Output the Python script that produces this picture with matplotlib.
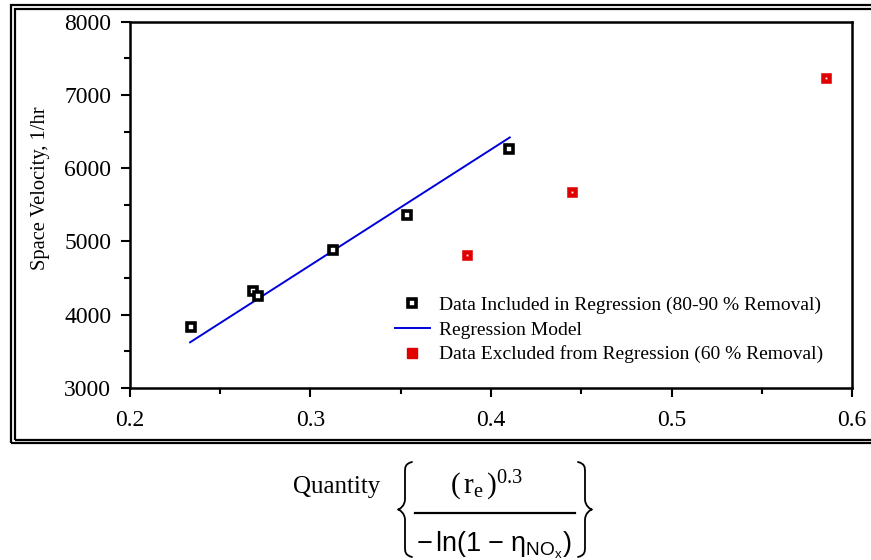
import matplotlib
matplotlib.use("Agg")
import matplotlib.pyplot as plt
from matplotlib.patches import Rectangle, PathPatch
from matplotlib.path import Path
from matplotlib.lines import Line2D
import numpy as np

plt.rcParams['font.family'] = ['Liberation Serif', 'DejaVu Serif']
plt.rcParams['mathtext.fontset'] = 'custom'
plt.rcParams['mathtext.rm'] = 'Liberation Serif'
plt.rcParams['mathtext.it'] = 'Liberation Serif:italic'
plt.rcParams['mathtext.sf'] = 'Liberation Sans'

# Data used in the regression (80-90 % NOx removal)
incl_x = [0.2339, 0.2682, 0.2707, 0.3124, 0.3537, 0.4098]
incl_sv = [3836, 4323, 4255, 4878, 5355, 6269]

# Data excluded from the regression (60 % NOx removal)
excl_x = [0.3867, 0.4450, 0.5856]
excl_sv = [4810, 5682, 7227]

# Linear regression model: SV = slope * x + intercept
reg_slope = 15790.0
reg_intercept = -60.0

x_ticks = [0.2, 0.3, 0.4, 0.5, 0.6]
y_ticks = [3000, 4000, 5000, 6000, 7000, 8000]

W, H = 871, 560
fig = plt.figure(figsize=(W / 100, H / 100), dpi=100)


def fx(px):
    return px / W


def fy(py):
    return 1 - py / H


ax = fig.add_axes([fx(130), fy(388), (852 - 130) / W, (388 - 21.7) / H])

xr = np.linspace(0.2333, 0.4104, 50)
ax.plot(xr, reg_slope * xr + reg_intercept, color='#0000dd', lw=1.4,
        label='Regression Model', zorder=2)
ax.plot(incl_x, incl_sv, ls='none', marker='s', ms=5.2, mfc='white', mec='black',
        mew=2.6, label='Data Included in Regression (80-90 % Removal)', zorder=3)
ax.plot(excl_x, excl_sv, ls='none', marker='s', ms=7, mfc='#e00000', mec='#e00000',
        mew=0.4, zorder=3)
ax.plot(excl_x, excl_sv, ls='none', marker='s', ms=1.3, mfc='white', mec='white',
        mew=0, zorder=4)
ax.plot([], [], ls='none', marker='s', ms=6.5, mfc='#e00000', mec='#e00000',
        label='Data Excluded from Regression (60 % Removal)')

ax.set_xlim(0.2, 0.6)
ax.set_ylim(3000, 8000)
ax.set_xticks(x_ticks)
ax.set_xticklabels([f'{v:.1f}' for v in x_ticks])
ax.set_yticks(y_ticks)
ax.set_xticks(np.arange(0.25, 0.6, 0.1), minor=True)
ax.set_yticks(np.arange(3500, 8000, 1000), minor=True)
ax.tick_params(axis='both', which='major', direction='out', length=6.5, width=1.5,
               labelsize=17)
ax.tick_params(axis='both', which='minor', direction='out', length=4, width=1.5)
ax.tick_params(axis='x', which='major', pad=9)
ax.tick_params(axis='y', which='major', pad=7)
for s in ax.spines.values():
    s.set_linewidth(1.8)

fig.text(fx(41), fy(188), 'Space Velocity, 1/hr', rotation=90,
         ha='center', va='center', fontsize=14.8)

h, l = ax.get_legend_handles_labels()
order = [1, 0, 2]
ax.legend([h[i] for i in order], [l[i] for i in order], frameon=False,
          loc='lower left', bbox_to_anchor=(0.356, 0.046), fontsize=14,
          handlelength=1.8, handletextpad=0.45, labelspacing=0.35,
          borderaxespad=0)

# double frame round the chart area
for (x0, y0, y1) in [(10.5, 4.5, 443.0), (14.5, 8.5, 439.5)]:
    fig.add_artist(Rectangle((fx(x0), fy(y1)), (900 - x0) / W, (y1 - y0) / H,
                             transform=fig.transFigure, fill=False,
                             edgecolor='black', lw=1.6, clip_on=False))


# x-axis quantity written as a braced fraction
def brace(x_tip, x_end, top, bottom):
    """Curly brace in pixel units; tip at x_tip, arms ending at x_end."""
    mid = 0.5 * (top + bottom)
    xm = 0.5 * (x_tip + x_end)
    hgt = bottom - top
    k = 0.11 * hgt
    pts = [(x_end, top),
           (xm, top + 0.02 * hgt), (xm, top + 0.5 * k), (xm, top + k),
           (xm, mid - k),
           (xm, mid - 0.35 * k), (x_tip + 0.2 * (xm - x_tip), mid), (x_tip, mid),
           (x_tip + 0.2 * (xm - x_tip), mid), (xm, mid + 0.35 * k), (xm, mid + k),
           (xm, bottom - k),
           (xm, bottom - 0.5 * k), (xm, bottom - 0.02 * hgt), (x_end, bottom)]
    codes = ([Path.MOVETO] + [Path.CURVE4] * 3 + [Path.LINETO] + [Path.CURVE4] * 6
             + [Path.LINETO] + [Path.CURVE4] * 3)
    verts = [(fx(a), fy(b)) for a, b in pts]
    fig.add_artist(PathPatch(Path(verts, codes), transform=fig.transFigure,
                             fill=False, edgecolor='black', lw=1.3, clip_on=False,
                             capstyle='round', joinstyle='round'))


fig.text(fx(380), fy(487), 'Quantity', ha='right', va='center', fontsize=18)
fig.text(fx(487), fy(494), r'$(\,\mathrm{r_e}\,)^{0.3}$', ha='center', va='baseline',
         fontsize=21)
fig.add_artist(Line2D([fx(415), fx(575)], [fy(513), fy(513)],
                      transform=fig.transFigure, color='black', lw=1.6))
fig.text(fx(494), fy(551), r'$\mathsf{-\,ln(1\,-\,\eta_{NO_x})}$',
         ha='center', va='baseline', fontsize=19.5)
brace(398, 412, 462, 557)
brace(592, 578, 462, 557)

fig.savefig('out.png', dpi=100)
